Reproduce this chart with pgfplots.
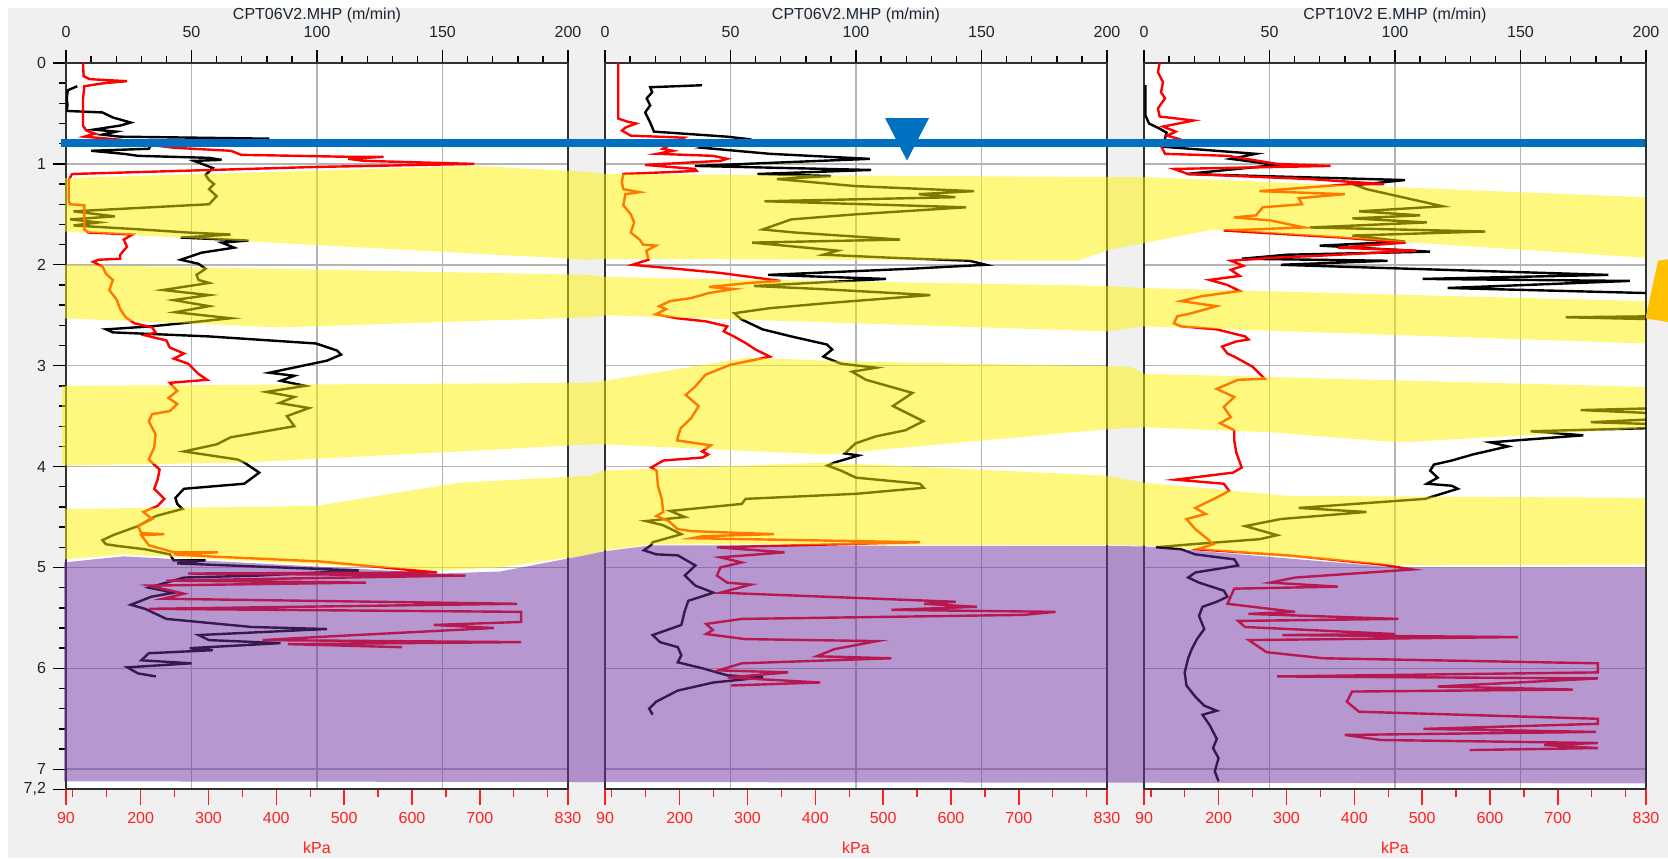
\documentclass[border=0pt]{standalone}
\usepackage{fontspec}
\setmainfont{Liberation Sans}
\usepackage{pgfplots}
\pgfplotsset{compat=1.18}
\definecolor{bg}{HTML}{F0F0F0}
\definecolor{gridc}{HTML}{B4B4B4}
\definecolor{framec}{HTML}{303030}
\definecolor{bluel}{HTML}{0070C0}
\definecolor{orangeT}{HTML}{FFC000}
\definecolor{purp}{RGB}{112,48,160}
\definecolor{redt}{HTML}{FF2020}
\definecolor{labc}{HTML}{1A2530}

\pgfplotsset{
  panelA/.style={
    scale only axis, width=251pt, height=363.2pt, anchor=north west,
    xmin=0, xmax=200, ymin=0, ymax=7.2, y dir=reverse,
    axis background/.style={fill=white},
    xtick={0,50,...,200}, minor x tick num=4,
    xtick pos=upper, xticklabel pos=upper,
    tick align=outside,
    major tick length=6.5pt, minor tick length=3.5pt,
    grid=major, major grid style={gridc, line width=0.8pt},
    axis line style={framec, line width=1pt},
    tick style={black, line width=0.7pt},
    ticklabel style={font=\fontsize{8}{9}\selectfont, text=labc},
    xticklabel style={yshift=2.5pt},
    /pgf/number format/assume math mode=true,
    title style={font=\fontsize{8}{9}\selectfont, text=labc, at={(axis description cs:0.5,1)}, anchor=base, yshift=16pt},
  },
  panelB/.style={
    scale only axis, width=251pt, height=363.2pt, anchor=north west,
    xmin=90, xmax=830, ymin=0, ymax=7.2, y dir=reverse,
    axis x line*=bottom, hide y axis,
    x axis line style={-, framec, line width=1pt},
    xtick={90,200,300,400,500,600,700,830},
    minor xtick={100,150,250,350,450,550,650,750,800},
    tick align=outside, major tick length=8pt, minor tick length=4pt,
    tick style={redt, line width=0.7pt},
    xticklabel style={text=redt, font=\fontsize{8}{9}\selectfont},
    xlabel={kPa}, xlabel style={text=redt, font=\fontsize{8}{9}\selectfont, yshift=-2pt},
    /pgf/number format/assume math mode=true,
  },
  blk/.style={black, line width=1.2pt, mark=none},
  rd/.style={red, line width=1.2pt, mark=none},
}

\begin{document}
\begin{tikzpicture}
\fill[white] (0,0) rectangle (834pt,-429pt);
\fill[bg] (3.9pt,-4.1pt) rectangle (834pt,-429pt);

% ---------------- Panel 1 ----------------
\begin{axis}[panelA, at={(33pt,-31.5pt)}, title={CPT06V2.MHP  (m/min)},
  ytick={0,1,2,3,4,5,6,7,7.2}, yticklabels={0,1,2,3,4,5,6,7,{7,2}},
  minor ytick={0.2,0.4,0.6,0.8,1.2,1.4,1.6,1.8,2.2,2.4,2.6,2.8,3.2,3.4,3.6,3.8,4.2,4.4,4.6,4.8,5.2,5.4,5.6,5.8,6.2,6.4,6.6,6.8},
  ytick pos=left, yticklabel pos=left]
\addplot[blk] coordinates {
(4.5,0.23) (0.7,0.27) (0.3,0.35) (0.6,0.42) (0.3,0.475) (14.5,0.49) (18.7,0.54) (25.8,0.59) (21.6,0.62) (11,0.66) (20,0.68) (14.5,0.71) (21.6,0.73) (81,0.75) (50,0.77) (34,0.81) (33,0.85) (10,0.87) (23,0.90) (28.7,0.92) (57,0.94) (62,0.96) (51,0.97) (58.5,1.04) (55.6,1.11) (57,1.16) (59,1.20) (57,1.25) (60,1.32) (57,1.40) (3,1.47) (19.4,1.52) (1.7,1.55) (13,1.58) (3,1.61) (30,1.65) (48.5,1.68) (65.6,1.70) (45.7,1.73) (72.7,1.76) (62,1.78) (67,1.83) (54,1.88) (45.7,1.95) (52.8,1.99) (55.6,2.04) (52,2.10) (52.8,2.15) (57,2.18) (38.6,2.25) (57,2.30) (42.9,2.35) (57,2.41) (43.5,2.47) (65.6,2.53) (50,2.57) (34,2.61) (15.9,2.64) (18.7,2.67) (57,2.71) (99.6,2.78) (108,2.85) (109.6,2.89) (104,2.95) (92.5,3.01) (81,3.07) (91,3.10) (85.5,3.15) (95.4,3.20) (79.8,3.26) (91,3.31) (85,3.37) (96.8,3.42) (88,3.50) (91,3.60) (65.6,3.71) (60,3.78) (47,3.85) (68.4,3.93) (71,3.96) (77,4.06) (71,4.17) (47,4.22) (43.6,4.31) (44.3,4.37) (46.4,4.42) (35.8,4.49) (28.7,4.59) (18.7,4.68) (14.5,4.73) (15.9,4.77) (21.6,4.79) (31.5,4.82) (41.4,4.87) (42.9,4.93) (55.6,4.93) (44.3,4.96) (116.7,5.03) (77,5.08) (47,5.10) (33,5.20) (43,5.25) (34,5.29) (25.8,5.37) (31.5,5.41) (40,5.51) (74,5.59) (104,5.61) (52.8,5.67) (57,5.72) (85.5,5.75) (49.3,5.80) (58.5,5.82) (33,5.85) (30,5.92) (50,5.95) (24.4,5.99) (28.7,6.05) (35.8,6.08)};
\end{axis}
\begin{axis}[panelB, at={(33pt,-31.5pt)}]
\addplot[rd] coordinates {
(115,0) (116,0.13) (125,0.16) (180,0.18) (146,0.20) (117,0.23) (115,0.36) (115,0.62) (120,0.67) (133,0.70) (117,0.73) (170,0.76) (200,0.80) (249,0.84) (333,0.87) (348,0.91) (511,0.93) (558,0.93) (506,0.95) (530,0.97) (692,1.0) (459,1.03) (99,1.10) (94,1.16) (94,1.36) (96,1.40) (117,1.41) (117,1.65) (123,1.68) (188,1.70) (175,1.75) (180,1.82) (170,1.90) (170,1.94) (138,1.95) (130,1.97) (144,2.02) (149,2.09) (159,2.15) (154,2.25) (165,2.35) (170,2.44) (178,2.52) (191,2.58) (217,2.62) (222,2.67) (207,2.70) (238,2.75) (243,2.82) (264,2.88) (249,2.93) (270,2.98) (285,3.08) (298,3.14) (243,3.17) (254,3.25) (241,3.32) (254,3.38) (243,3.45) (217,3.48) (212,3.55) (222,3.68) (220,3.81) (212,3.93) (228,4.03) (225,4.13) (220,4.22) (235,4.32) (225,4.39) (204,4.45) (217,4.52) (196,4.59) (201,4.66) (235,4.67) (201,4.68) (212,4.78) (249,4.85) (314,4.85) (249,4.87) (300,4.89) (464,4.94) (637,5.05) (270,5.06) (679,5.08) (238,5.13) (532,5.15) (212,5.18) (264,5.26) (233,5.31) (755,5.36) (212,5.41) (761,5.44) (761,5.54) (632,5.57) (721,5.60) (459,5.69) (380,5.72) (761,5.74) (417,5.76) (585,5.79)};
\end{axis}

% ---------------- Panel 2 ----------------
\begin{axis}[panelA, at={(302.5pt,-31.5pt)}, title={CPT06V2.MHP  (m/min)},
  ytick={1,2,3,4,5,6,7}, yticklabels={}, ytick style={draw=none}]
\addplot[blk] coordinates {
(38.7,0.22) (18,0.24) (18.8,0.29) (16.6,0.35) (18,0.42) (16,0.49) (18,0.59) (19.5,0.68) (48.6,0.73) (55.7,0.75) (38.7,0.84) (65.7,0.90) (105.5,0.95) (35.8,1.02) (106,1.06) (60.7,1.10) (90,1.12) (68.5,1.15) (99.8,1.22) (147,1.27) (125,1.30) (139.6,1.33) (63.5,1.37) (143.8,1.43) (99.8,1.50) (74.2,1.55) (62.8,1.65) (75.6,1.68) (117.6,1.75) (58.6,1.78) (92.7,1.86) (87,1.90) (114,1.93) (145.3,1.96) (151.7,2.0) (121,2.04) (65,2.10) (112,2.14) (59.3,2.21) (85.6,2.24) (129.6,2.30) (88.4,2.38) (65.7,2.43) (51.5,2.48) (54.3,2.54) (62.8,2.64) (74.2,2.71) (88.4,2.79) (90.5,2.84) (87,2.91) (94,2.98) (108,3.02) (98.4,3.06) (104,3.14) (122.5,3.27) (114.7,3.40) (126.8,3.55) (119.7,3.64) (108,3.70) (99.8,3.77) (95.5,3.87) (101,3.89) (91.4,3.96) (88.6,3.99) (94,4.04) (100,4.11) (125.5,4.17) (127,4.21) (100,4.27) (56,4.32) (54.5,4.37) (26,4.44) (31.8,4.50) (16.2,4.54) (23,4.58) (30.4,4.67) (19,4.75) (18.3,4.78) (15.5,4.83) (20.4,4.87) (29,4.88) (36,4.98) (31.8,5.08) (36,5.18) (43.2,5.25) (33.2,5.33) (31.8,5.43) (30.4,5.57) (19,5.67) (21.9,5.74) (29,5.79) (30.4,5.87) (29,5.94) (38.9,6.00) (48.8,6.07) (63,6.09) (43.2,6.14) (29,6.22) (20.4,6.33) (17.6,6.40) (19,6.46)};
\end{axis}
\begin{axis}[panelB, at={(302.5pt,-31.5pt)}]
\addplot[rd] coordinates {
(109.5,0) (109.5,0.55) (122.6,0.58) (135.8,0.60) (120,0.64) (115,0.67) (128,0.72) (206.7,0.74) (175,0.85) (190,0.87) (167,0.90) (249,0.92) (270,0.95) (260,0.97) (149,1.01) (222.5,1.05) (225,1.07) (117,1.10) (114.7,1.18) (117,1.25) (141,1.28) (120,1.30) (117,1.41) (128,1.50) (133,1.58) (128,1.68) (141,1.75) (146,1.80) (165,1.81) (151,1.86) (154,1.95) (130.5,2.0) (196,2.04) (259,2.08) (348.7,2.16) (302,2.18) (243.6,2.22) (280,2.24) (243,2.28) (217,2.33) (185.7,2.36) (170,2.41) (180,2.44) (164.7,2.49) (196,2.53) (238,2.56) (270,2.61) (265,2.66) (280,2.71) (296,2.77) (312,2.84) (333,2.91) (312,2.94) (275,2.99) (238,3.09) (222.5,3.21) (209,3.29) (228,3.40) (217,3.52) (201.5,3.62) (196,3.74) (246,3.79) (233,3.85) (242,3.88) (234,3.91) (176,3.94) (158,4.01) (166,4.04) (168,4.19) (173.5,4.32) (176,4.45) (165.6,4.49) (184,4.54) (197,4.62) (218,4.64) (339,4.67) (234,4.69) (218,4.71) (554,4.75) (255,4.80) (354.7,4.85) (260,4.90) (291.7,4.95) (260,5.0) (255,5.08) (270,5.15) (305,5.17) (260,5.25) (607,5.34) (560,5.36) (638,5.39) (512,5.42) (754,5.44) (707,5.47) (291.7,5.51) (239,5.56) (249,5.62) (239,5.66) (297,5.71) (491,5.73) (428,5.81) (402,5.88) (512,5.90) (291.7,5.95) (257.5,6.02) (360,6.04) (270.7,6.09) (407,6.14) (276,6.17)};
\end{axis}

% ---------------- Panel 3 ----------------
\begin{axis}[panelA, at={(572pt,-31.5pt)}, title={CPT10V2 E.MHP  (m/min)},
  ytick={1,2,3,4,5,6,7}, yticklabels={}, ytick style={draw=none}]
\addplot[blk] coordinates {
(0.6,0.22) (0.6,0.52) (2,0.60) (6.2,0.65) (9,0.69) (8,0.78) (7.7,0.83) (44.6,0.90) (34.6,0.95) (53,1.01) (16.9,1.10) (104,1.16) (84.3,1.21) (88.6,1.25) (119,1.42) (85.7,1.47) (110,1.51) (83,1.54) (112.7,1.58) (66,1.63) (136,1.67) (83,1.71) (104,1.77) (70,1.81) (114,1.87) (57,1.90) (38.9,1.94) (97,1.96) (54.5,2.0) (185,2.10) (111,2.14) (193.6,2.16) (121,2.23) (200,2.28) (230,2.35) (240,2.50) (168,2.52) (240,2.56) (240,3.40) (174,3.44) (230,3.50) (178,3.56) (230,3.60) (154,3.65) (175,3.69) (138,3.76) (145,3.80) (131,3.88) (122.6,3.94) (115.5,3.98) (114,4.04) (117,4.11) (112.7,4.17) (122.6,4.19) (125,4.22) (112,4.32) (61.6,4.41) (88.6,4.45) (54.5,4.52) (40.3,4.59) (53,4.68) (46,4.72) (19,4.77) (4.8,4.80) (14.8,4.82) (20.4,4.87) (36,4.92) (37.5,4.98) (30.4,5.01) (20.4,5.05) (17.6,5.10) (21.9,5.15) (31.8,5.23) (33.2,5.29) (29,5.34) (23.3,5.39) (21.9,5.48) (24,5.61) (21.1,5.71) (19,5.81) (17.6,5.90) (16.2,6.04) (16.9,6.17) (20.4,6.28) (24,6.37) (29,6.42) (23.3,6.46) (26.1,6.56) (29,6.70) (27.5,6.79) (29.7,6.89) (28.2,7.02) (29.7,7.12)};
\end{axis}
\begin{axis}[panelB, at={(572pt,-31.5pt)}]
\addplot[rd] coordinates {
(113,0) (110.5,0.09) (118,0.19) (115,0.29) (121,0.35) (110.5,0.45) (113,0.53) (163,0.57) (118,0.63) (136.7,0.68) (124,0.72) (140,0.75) (115.7,0.83) (121,0.90) (213,0.92) (286,1.0) (365,1.02) (134,1.05) (155,1.10) (333.7,1.15) (444,1.20) (396,1.20) (260,1.27) (386,1.30) (318,1.34) (323,1.40) (265,1.43) (255,1.51) (223,1.53) (276,1.56) (326,1.63) (207.6,1.66) (381,1.73) (475.5,1.78) (376,1.83) (491,1.86) (349,1.91) (281,1.93) (218,1.96) (236.5,2.01) (218,2.05) (231,2.11) (186.6,2.15) (213,2.20) (231,2.26) (176,2.31) (144.6,2.36) (197,2.41) (160,2.48) (139,2.51) (134,2.58) (144.6,2.61) (197,2.64) (239,2.71) (244,2.74) (226,2.76) (205,2.81) (213,2.88) (223,2.91) (250,3.01) (268,3.13) (228.7,3.14) (197,3.23) (223,3.31) (207.6,3.41) (218,3.51) (202,3.57) (223,3.64) (223,3.74) (226,3.86) (234,4.01) (221,4.06) (136.7,4.13) (207.6,4.17) (215.5,4.24) (202,4.29) (165.6,4.41) (181,4.47) (152.5,4.52) (165.6,4.62) (184,4.72) (192,4.77) (168,4.82) (302,4.88) (439,4.97) (486,5.02) (312.7,5.10) (276,5.15) (375.7,5.19) (223,5.21) (213,5.36) (312.7,5.44) (244,5.46) (465,5.51) (228.7,5.53) (239,5.59) (460,5.66) (294,5.67) (641,5.69) (244.4,5.72) (270.7,5.84) (354.7,5.90) (759,5.95) (759,6.04) (286.4,6.08) (759,6.10) (522.8,6.18) (722,6.21) (396.7,6.23) (389,6.33) (407,6.43) (759,6.50) (759,6.55) (501.8,6.60) (756.5,6.63) (386,6.66) (439,6.71) (759,6.74) (680,6.76) (759,6.79) (570,6.81)};
\end{axis}

% ---------------- Overlay: layers, water table, markers ----------------
\begin{axis}[at={(0pt,-31.5pt)}, anchor=north west, scale only axis,
  width=834pt, height=363.2pt, xmin=0, xmax=1668, ymin=0, ymax=7.2,
  y dir=reverse, hide axis, clip=false]
\addplot[draw=none, fill=yellow, fill opacity=0.5] coordinates {
(65,1.14) (476,1.02) (590,1.08) (605,1.10) (1107,1.13) (1144,1.13) (1645,1.33) (1645,1.93) (1213,1.65) (1110,1.85) (1077,1.96) (605,1.94) (590,1.95) (65,1.67)} -- cycle;
\addplot[draw=none, fill=yellow, fill opacity=0.5] coordinates {
(65,2.00) (590,2.10) (605,2.12) (1107,2.21) (1144,2.23) (1645,2.36) (1645,2.78) (1144,2.61) (1107,2.66) (605,2.50) (590,2.52) (280,2.62) (65,2.53)} -- cycle;
\addplot[draw=none, fill=yellow, fill opacity=0.5] coordinates {
(62,3.20) (590,3.17) (605,3.15) (748,2.92) (857,2.96) (1130,3.01) (1144,3.08) (1645,3.21) (1645,3.62) (1400,3.76) (1270,3.66) (1144,3.61) (1107,3.63) (827,3.88) (605,3.78) (590,3.78) (459,3.85) (244,3.96) (62,3.99)} -- cycle;
\addplot[draw=none, fill=yellow, fill opacity=0.5] coordinates {
(65,4.42) (316,4.39) (459,4.16) (590,4.09) (604,4.04) (827,3.96) (1106,4.09) (1144,4.16) (1288,4.29) (1645,4.31) (1645,4.97) (1395,4.98) (1144,4.78) (652,4.77) (604,4.83) (590,4.87) (500,5.0) (441,5.03) (316,4.97) (123,4.87) (65,4.92)} -- cycle;
\addplot[draw=none, fill=purp, fill opacity=0.5] coordinates {
(64,4.95) (123,4.89) (316,4.99) (441,5.06) (500,5.04) (590,4.87) (604,4.84) (652,4.78) (1144,4.79) (1395,5.0) (1645,5.00) (1645,7.14) (64,7.12)} -- cycle;
\addplot[bluel, line width=4pt, mark=none] coordinates {(61,0.795) (1645,0.795)};
\addplot[draw=none, fill=bluel] coordinates {(885,0.545) (929,0.545) (907,0.967)} -- cycle;
\addplot[draw=none, fill=orangeT] coordinates {(1645.5,2.53) (1658,1.96) (1700,1.90) (1700,2.62)} -- cycle;
\end{axis}

\pgfresetboundingbox
\useasboundingbox (0,0) rectangle (834pt,-429pt);
\end{tikzpicture}
\end{document}
